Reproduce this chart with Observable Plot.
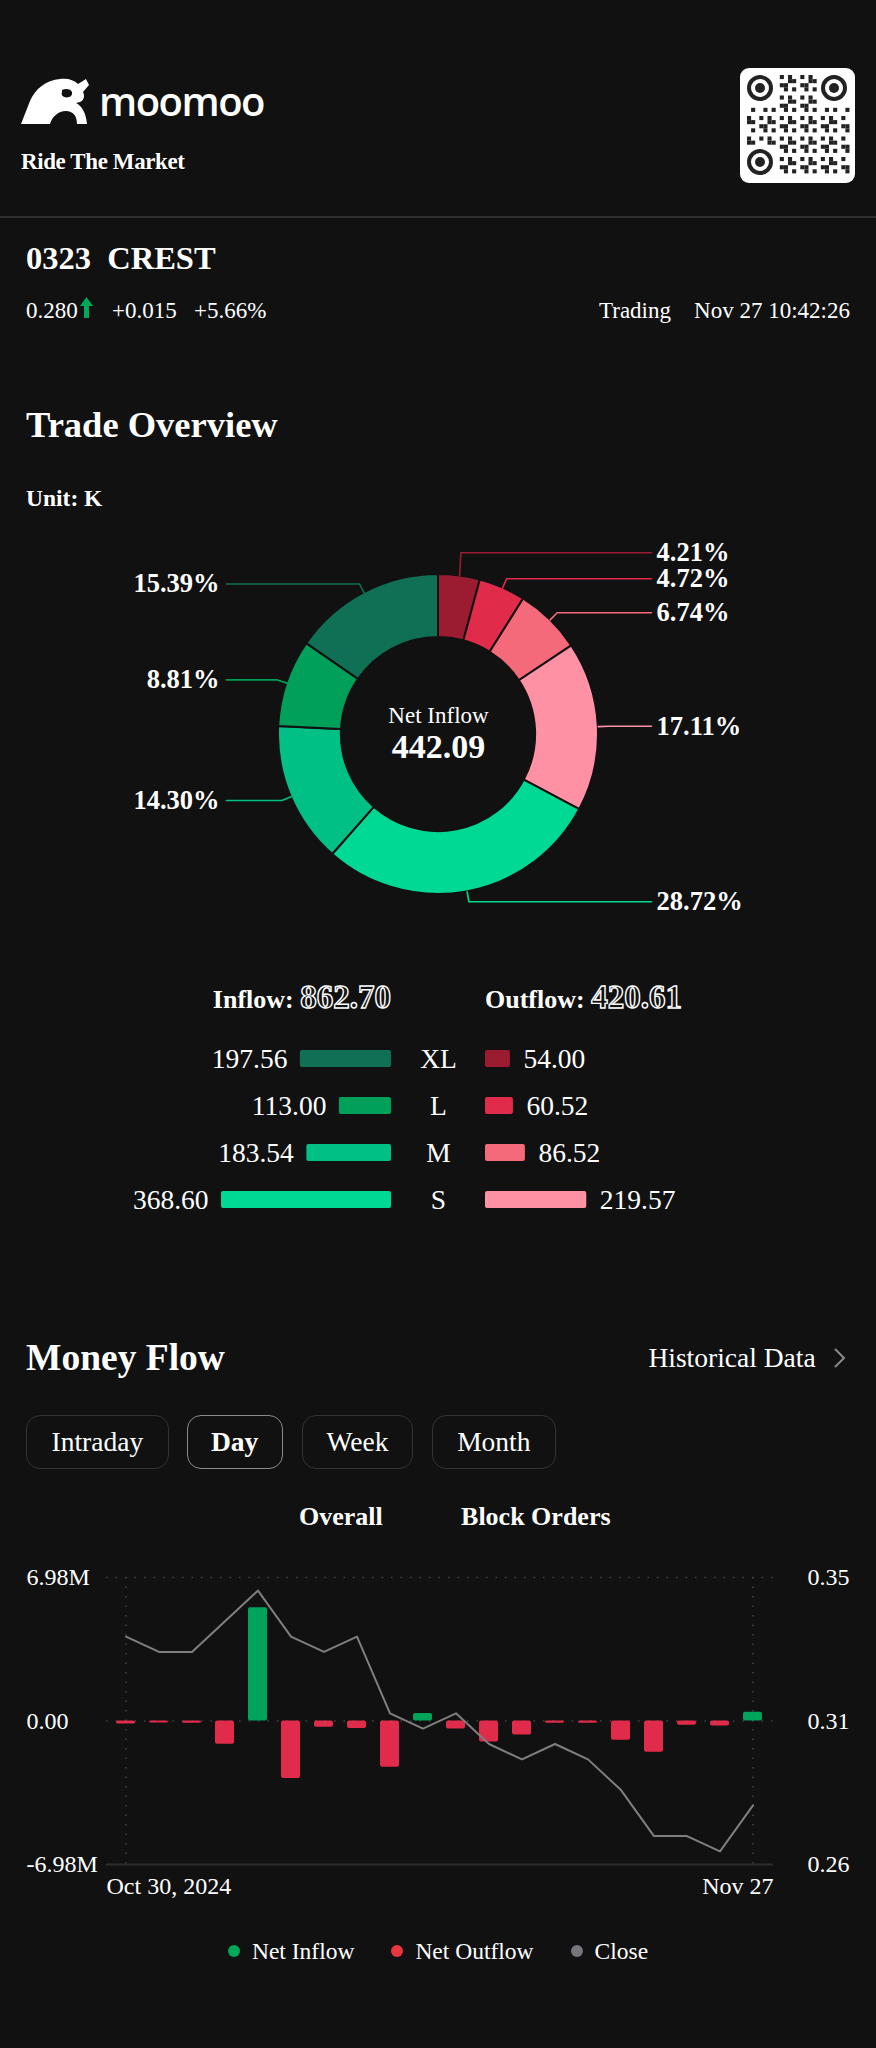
<!DOCTYPE html>
<html><head><meta charset="utf-8">
<script src="https://cdn.jsdelivr.net/npm/d3@7"></script>
<script src="https://cdn.jsdelivr.net/npm/@observablehq/plot@0.6"></script>
<style>
html,body{margin:0;padding:0;background:#111111;width:876px;height:2048px;overflow:hidden;}
body{position:relative;font-family:"Liberation Serif","Times New Roman",serif;color:#fff;}
.t{position:absolute;line-height:0;white-space:nowrap;}
.abs{position:absolute;}
.tab{position:absolute;box-sizing:border-box;border:1.5px solid #333;border-radius:14px;display:flex;align-items:center;justify-content:center;font-size:27.5px;line-height:1;}
.hollow{color:#111;-webkit-text-stroke:1.4px #fff;font-weight:bold;}
</style></head><body>
<script>
// ---------------- data ----------------
const quote = {code: "0323", name: "CREST", price: "0.280", change: "+0.015", pct: "+5.66%", status: "Trading", time: "Nov 27 10:42:26"};
const sizes = ["XL", "L", "M", "S"];
const inflow = [197.56, 113.00, 183.54, 368.60];
const outflow = [54.00, 60.52, 86.52, 219.57];
const inColors = ["#0f7055", "#00a05a", "#00c086", "#00d994"];
const outColors = ["#9b1c30", "#e02b4b", "#f56a7a", "#ff91a4"];
const tabs = ["Intraday", "Day", "Week", "Month"];
const flowDates = ["2024-10-30","2024-10-31","2024-11-01","2024-11-04","2024-11-05","2024-11-06","2024-11-07","2024-11-08","2024-11-11","2024-11-12","2024-11-13","2024-11-14","2024-11-15","2024-11-18","2024-11-19","2024-11-20","2024-11-21","2024-11-22","2024-11-25","2024-11-27"];
const netFlow = [-0.15, -0.10, -0.11, -1.13, 5.51, -2.80, -0.31, -0.36, -2.25, 0.37, -0.39, -1.02, -0.68, -0.11, -0.11, -0.94, -1.52, -0.21, -0.24, 0.42];
const closePrice = [0.335, 0.330, 0.330, 0.340, 0.350, 0.335, 0.330, 0.335, 0.310, 0.305, 0.310, 0.300, 0.295, 0.300, 0.295, 0.285, 0.270, 0.270, 0.265, 0.280];
const flowTicks = [6.98, 0, -6.98];
const flowTickLabels = ["6.98M", "0.00", "-6.98M"];
const legendItems = ["Net Inflow", "Net Outflow", "Close"];
const legendColors = ["#00a85a", "#e8363f", "#75777c"];
const upColor = "#00a35a", downColor = "#e02b4b";

// ---------------- helpers ----------------
const W = 876;
const serif = '"Liberation Serif","Times New Roman",serif';
const page = document.body;
function T(text, x, y, size, o = {}) {
  const d = document.createElement("div");
  d.className = "t";
  d.textContent = text;
  d.style.fontSize = size + "px";
  d.style.top = y + "px";
  if (o.align === "right") d.style.right = (W - x) + "px";
  else if (o.align === "center") { d.style.left = x + "px"; d.style.transform = "translateX(-50%)"; }
  else d.style.left = x + "px";
  if (o.weight) d.style.fontWeight = o.weight;
  if (o.color) d.style.color = o.color;
  if (o.font) d.style.fontFamily = o.font;
  if (o.css) Object.assign(d.style, o.css);
  page.appendChild(d);
  return d;
}
function place(node, left, top) {
  node.style.position = "absolute";
  node.style.left = left + "px";
  node.style.top = top + "px";
  page.appendChild(node);
}

// ---------------- header ----------------
const hdr = document.createElementNS("http://www.w3.org/2000/svg", "svg");
hdr.setAttribute("width", W); hdr.setAttribute("height", 340);
hdr.style.position = "absolute"; hdr.style.left = "0"; hdr.style.top = "0";
let qr = "";
for (let i = 0; i < 25; i++) for (let j = 0; j < 25; j++) {
  const inFinder = (i < 8 && j < 8) || (i < 8 && j > 16) || (i > 16 && j < 8);
  if (inFinder) continue;
  if (((i * 31 + j * 17 + i * j * 7) % 5) < 2) qr += `<rect x="${747 + j * 4.1}" y="${75 + i * 4.1}" width="4.1" height="4.1" fill="#222"/>`;
}
const finder = (cx, cy) => `<circle cx="${cx}" cy="${cy}" r="11" fill="none" stroke="#222" stroke-width="4"/><circle cx="${cx}" cy="${cy}" r="5" fill="#222"/>`;
hdr.innerHTML = `
  <path d="M21,124 L30,101 C35,89 46,80 60,79 C68,78 74,80 78,84 L86,79 L89,85 L83,92 C85,96 84,100 80,102 L76,103 C82,106 86,113 87,124 L77,124 C77,116 73,111 66,111 C58,111 52,117 50,124 Z" fill="#fff"/>
  <path d="M62,90 C68,87 75,91 71,96 C67,99 60,97 62,92 Z" fill="#111"/>
  <rect x="740" y="68" width="115" height="115" rx="9" fill="#fff"/>
  ${finder(760, 88)}${finder(834, 88)}${finder(760, 162)}
  ${qr}
  <line x1="0" x2="${W}" y1="217" y2="217" stroke="#3a3a3a" stroke-width="1.5"/>
  <path d="M80,306 L86.5,297 L93,306 L89,306 L89,318 L84,318 L84,306 Z" fill="#00a85a"/>
`;
page.appendChild(hdr);

T("moomoo", 99, 100.5, 40, {font: '"Open Sans",sans-serif', weight: 600, css: {letterSpacing: "-1.5px"}});
T("Ride The Market", 21, 162, 23, {weight: "bold", css: {letterSpacing: "-0.4px", textShadow: "1px 1px 0 #000"}});
T(quote.code + "\u00a0\u00a0" + quote.name, 26, 258, 32.5, {weight: "bold"});
T(quote.price, 26, 311, 23);
T(quote.change, 112, 311, 23);
T(quote.pct, 194, 311, 23);
T(quote.status, 671, 311, 23, {align: "right"});
T(quote.time, 850, 311, 23, {align: "right"});

// ---------------- trade overview ----------------
T("Trade Overview", 26, 424.6, 36.5, {weight: "bold"});
T("Unit: K", 26, 498, 23.5, {weight: "bold"});

const totalIn = d3.sum(inflow), totalOut = d3.sum(outflow), total = totalIn + totalOut;
const slices = [
  ...sizes.map((s, i) => ({key: "out" + s, value: outflow[i], color: outColors[i]})),
  ...sizes.map((s, i) => ({key: "in" + s, value: inflow[i], color: inColors[i]})).reverse()
];
const arcs = d3.pie().sort(null).value(d => d.value)(slices);
const R = 160, donutH = 420, donutCY = 214;
const lineLen = 10 / R, edgeR = 213 / R, edgeL = -212 / R, labelGap = 26 / R;
slices.forEach((d, i) => {
  const a = (arcs[i].startAngle + arcs[i].endAngle) / 2;
  d.right = Math.sin(a) >= 0;
  d.sx = Math.sin(a); d.sy = Math.cos(a);
  d.ex = Math.sin(a) * (1 + lineLen); d.ly = Math.cos(a) * (1 + lineLen);
  d.pct = (d.value / total * 100).toFixed(2) + "%";
});
for (const side of [true, false]) {
  const g = slices.filter(d => d.right === side).sort((p, q) => q.ly - p.ly);
  for (let k = g.length - 1; k > 0; k--) if (g[k - 1].ly - g[k].ly < labelGap) g[k - 1].ly = g[k].ly + labelGap;
}
const leader = slices.flatMap(d => [
  {key: d.key, color: d.color, x: d.sx, y: d.sy},
  {key: d.key, color: d.color, x: d.ex, y: d.ly},
  {key: d.key, color: d.color, x: d.right ? edgeR : edgeL, y: d.ly}
]);

const donut = Plot.plot({
  width: W, height: donutH, margin: 0,
  x: {domain: [-(W / 2) / R, (W / 2) / R], axis: null},
  y: {domain: [-(donutH - donutCY) / R, donutCY / R], axis: null},
  color: {type: "identity"},
  style: {background: "transparent", color: "#fff", fontFamily: serif, overflow: "visible"},
  marks: [
    (index, scales) => {
      const cx = scales.x(0), cy = scales.y(0), r = scales.x(1) - cx;
      const arc = d3.arc().innerRadius(r * 0.607).outerRadius(r);
      const g = d3.create("svg:g").attr("transform", `translate(${cx},${cy})`);
      g.selectAll("path").data(arcs).join("path")
        .attr("d", arc).attr("fill", d => d.data.color)
        .attr("stroke", "#111").attr("stroke-width", 2);
      return g.node();
    },
    Plot.line(leader, {x: "x", y: "y", z: "key", stroke: "color", strokeWidth: 1.6, curve: "linear"}),
    Plot.text(slices.filter(d => d.right), {x: edgeR, y: "ly", text: "pct", textAnchor: "start", dx: 5, fontSize: 26.5, fontWeight: "bold", fill: "#fff"}),
    Plot.text(slices.filter(d => !d.right), {x: edgeL, y: "ly", text: "pct", textAnchor: "end", dx: -7, fontSize: 26.5, fontWeight: "bold", fill: "#fff"}),
    Plot.text(["Net Inflow"], {x: 0, y: 0, dy: -19, text: d => d, fontSize: 23, fill: "#fff"}),
    Plot.text([totalIn - totalOut], {x: 0, y: 0, dy: 13, text: d => d.toFixed(2), fontSize: 34, fontWeight: "bold", fill: "#fff"})
  ]
});
place(donut, 0, 734 - donutCY);

// inflow / outflow headers
{
  const a = document.createElement("div");
  a.className = "t"; a.style.right = (W - 391) + "px"; a.style.top = "996.7px";
  a.innerHTML = `<span style="font-weight:bold;font-size:26px">Inflow: </span><span class="hollow" style="font-size:33px">${totalIn.toFixed(2)}</span>`;
  page.appendChild(a);
  const b = document.createElement("div");
  b.className = "t"; b.style.left = "485px"; b.style.top = "996.7px";
  b.innerHTML = `<span style="font-weight:bold;font-size:26px">Outflow: </span><span class="hollow" style="font-size:33px">${totalOut.toFixed(2)}</span>`;
  page.appendChild(b);
}

const rows = sizes.map((s, i) => ({size: s, inflow: inflow[i], outflow: outflow[i], inColor: inColors[i], outColor: outColors[i]}));
const maxV = d3.max([...inflow, ...outflow]);
const barW = 170, barsH = 191, halfW = 391;
const yRows = {domain: sizes, axis: null, paddingInner: 0.64, paddingOuter: 0.32};
const leftBars = Plot.plot({
  width: halfW, height: barsH, marginLeft: halfW - barW, marginRight: 0, marginTop: 0, marginBottom: 0,
  x: {domain: [0, maxV], reverse: true, axis: null},
  y: yRows,
  color: {type: "identity"},
  style: {background: "transparent", color: "#fff", fontFamily: serif, overflow: "visible"},
  marks: [
    Plot.barX(rows, {x: "inflow", y: "size", fill: "inColor", rx: 2}),
    Plot.text(rows, {x: "inflow", y: "size", text: d => d.inflow.toFixed(2), textAnchor: "end", dx: -13, fontSize: 27.5, fill: "#fff"}),
    Plot.text(sizes, {y: d => d, text: d => d, frameAnchor: "right", dx: 47, textAnchor: "middle", fontSize: 27.5, fill: "#fff"})
  ]
});
place(leftBars, 0, 1056.7 - barsH / 8);
const rightBars = Plot.plot({
  width: halfW, height: barsH, marginLeft: 0, marginRight: halfW - barW, marginTop: 0, marginBottom: 0,
  x: {domain: [0, maxV], axis: null},
  y: yRows,
  color: {type: "identity"},
  style: {background: "transparent", color: "#fff", fontFamily: serif, overflow: "visible"},
  marks: [
    Plot.barX(rows, {x: "outflow", y: "size", fill: "outColor", rx: 2}),
    Plot.text(rows, {x: "outflow", y: "size", text: d => d.outflow.toFixed(2), textAnchor: "start", dx: 13, fontSize: 27.5, fill: "#fff"})
  ]
});
place(rightBars, 485, 1056.7 - barsH / 8);

// ---------------- money flow ----------------
T("Money Flow", 26, 1358, 37.5, {weight: "bold"});
T("Historical Data", 815.6, 1358, 27.5, {align: "right"});
{
  const s = document.createElementNS("http://www.w3.org/2000/svg", "svg");
  s.setAttribute("width", 16); s.setAttribute("height", 22);
  s.innerHTML = `<polyline points="3,2 12,11 3,20" fill="none" stroke="#8a8a8a" stroke-width="2"/>`;
  place(s, 832, 1347);
}
const tabBoxes = [[26, 142.7], [186.6, 96.1], [301.7, 111.7], [431.8, 124.1]];
tabs.forEach((t, i) => {
  const d = document.createElement("div");
  d.className = "tab";
  d.textContent = t;
  Object.assign(d.style, {left: tabBoxes[i][0] + "px", top: "1415px", width: tabBoxes[i][1] + "px", height: "54px"});
  if (t === "Day") { d.style.fontWeight = "bold"; d.style.borderColor = "#8c8c8c"; }
  page.appendChild(d);
});
T("Overall", 340.8, 1516.7, 26, {align: "center", weight: "bold"});
T("Block Orders", 535.8, 1516.7, 26, {align: "center", weight: "bold"});

const parse = d3.utcParse("%Y-%m-%d");
const flow = flowDates.map((d, i) => ({date: d, net: netFlow[i], close: closePrice[i]}));
const cMin = d3.min(closePrice), cMax = d3.max(closePrice), cPad = (cMax - cMin) * 0.05;
const cLo = cMin - cPad, cHi = cMax + cPad, yMax = flowTicks[0];
const toY = c => (c - cLo) / (cHi - cLo) * 2 * yMax - yMax;
const fromY = y => cLo + (y + yMax) / (2 * yMax) * (cHi - cLo);
const lastDate = flowDates[flowDates.length - 1];
const chart = Plot.plot({
  width: W, height: 379, marginTop: 32, marginBottom: 60, marginLeft: 106, marginRight: 103,
  x: {type: "band", domain: flowDates, paddingInner: 0.42, paddingOuter: 0.21, axis: null},
  y: {domain: [-yMax, yMax], axis: null},
  color: {type: "identity"},
  style: {background: "transparent", color: "#fff", fontFamily: serif, overflow: "visible"},
  marks: [
    Plot.ruleY([flowTicks[0], flowTicks[1]], {stroke: "#444", strokeWidth: 1.5, strokeDasharray: "1.5,8"}),
    Plot.ruleX([flowDates[0], lastDate], {stroke: "#444", strokeWidth: 1.5, strokeDasharray: "1.5,8"}),
    Plot.ruleY([flowTicks[2]], {stroke: "#2c2c2c", strokeWidth: 2}),
    Plot.barY(flow, {x: "date", y: "net", fill: d => d.net >= 0 ? upColor : downColor, rx: 2}),
    Plot.line(flow, {x: "date", y: d => toY(d.close), stroke: "#7f7f7f", strokeWidth: 2}),
    Plot.text(flowTicks, {y: d => d, text: (d, i) => flowTickLabels[i], frameAnchor: "left", dx: -80, textAnchor: "start", fontSize: 24, fill: "#fff"}),
    Plot.text(flowTicks, {y: d => d, text: d => fromY(d).toFixed(2), frameAnchor: "right", dx: 76, textAnchor: "end", fontSize: 24, fill: "#fff"}),
    Plot.text([flowDates[0]], {frameAnchor: "bottom-left", text: d => d3.utcFormat("%b %-d, %Y")(parse(d)), textAnchor: "start", dy: 29, fontSize: 24, fill: "#fff"}),
    Plot.text([lastDate], {frameAnchor: "bottom-right", text: d => d3.utcFormat("%b %-d")(parse(d)), textAnchor: "end", dy: 29, fontSize: 24, fill: "#fff"})
  ]
});
place(chart, 0, 1545);

// legend
{
  const lg = document.createElement("div");
  Object.assign(lg.style, {position: "absolute", left: "0", top: "1938px", width: W + "px", height: "26px", display: "flex", justifyContent: "center", alignItems: "center", gap: "37px"});
  legendItems.forEach((t, i) => {
    const it = document.createElement("div");
    Object.assign(it.style, {display: "flex", alignItems: "center", gap: "12px"});
    it.innerHTML = `<span style="display:inline-block;width:12px;height:12px;border-radius:50%;background:${legendColors[i]}"></span><span style="font-size:23.5px;line-height:26px">${t}</span>`;
    lg.appendChild(it);
  });
  page.appendChild(lg);
}
</script>
</body></html>
